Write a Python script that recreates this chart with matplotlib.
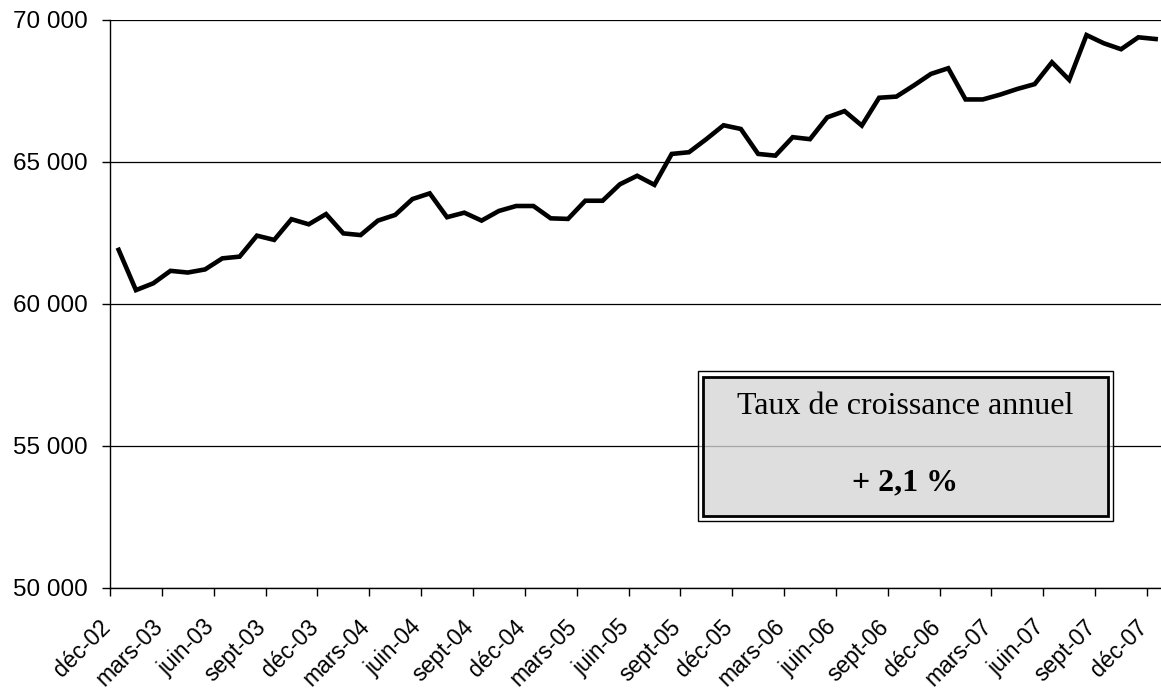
import matplotlib
matplotlib.use("Agg")
import matplotlib.pyplot as plt
from matplotlib.patches import Rectangle
from matplotlib.transforms import ScaledTranslation

# ---- data ----
values = [61900, 60480, 60720, 61160, 61100, 61210, 61600, 61660, 62400, 62250,
          62980, 62800, 63160, 62480, 62420, 62930, 63130, 63690, 63890, 63050,
          63210, 62930, 63270, 63445, 63445, 63010, 62990, 63630, 63630, 64210,
          64510, 64190, 65280, 65340, 65800, 66290, 66160, 65280, 65220, 65870,
          65800, 66570, 66790, 66280, 67260, 67300, 67690, 68100, 68300, 67200,
          67200, 67370, 67570, 67740, 68510, 67890, 69470, 69180, 68970, 69390,
          69330]
tick_labels = ["déc-02", "mars-03", "juin-03", "sept-03", "déc-03", "mars-04",
               "juin-04", "sept-04", "déc-04", "mars-05", "juin-05", "sept-05",
               "déc-05", "mars-06", "juin-06", "sept-06", "déc-06", "mars-07",
               "juin-07", "sept-07", "déc-07"]
y_ticks = [50000, 55000, 60000, 65000, 70000]
y_tick_labels = ["50 000", "55 000", "60 000", "65 000", "70 000"]
box_title = "Taux de croissance annuel"
box_value = "+ 2,1 %"

W, H = 1161, 695
fig = plt.figure(figsize=(W / 100, H / 100), dpi=100)
ax = fig.add_axes([110 / W, (H - 587.5) / H, (W - 110) / W, 567.5 / H])

x = list(range(len(values)))
ax.plot(x, values, color="black", lw=3.3, zorder=3, solid_joinstyle="miter")

px_per_month = (1147 - 110) / 60
ax.set_xlim(-0.5, -0.5 + (W - 110) / px_per_month)
ax.set_ylim(50000, 70000)

ax.set_yticks(y_ticks)
ax.set_yticklabels(y_tick_labels, family="Liberation Sans", fontsize=17.5)
ax.set_xticks([-0.5 + 3 * k for k in range(len(tick_labels))])
ax.set_xticklabels(tick_labels, family="Liberation Sans", fontsize=16.5,
                   rotation=45, ha="right", va="top", rotation_mode="anchor")
ax.tick_params(axis="y", length=6, width=1, pad=10, color="black")
ax.tick_params(axis="x", length=6, width=1, pad=14, color="black")
offset = ScaledTranslation(-11 / 100, 0, fig.dpi_scale_trans)
for lab in ax.get_xticklabels():
    lab.set_transform(lab.get_transform() + offset)

for s in ["top", "right"]:
    ax.spines[s].set_visible(False)
for s in ["left", "bottom"]:
    ax.spines[s].set_linewidth(1.0)
    ax.spines[s].set_color("black")

ax.yaxis.grid(True, color="black", lw=0.9)
ax.set_axisbelow(True)

# ---- annotation box (pixel-based placement in figure coords) ----
def fx(px):
    return px / W

def fy(py):
    return (H - py) / H

outer = Rectangle((fx(697.5), fy(521)), fx(1112.5) - fx(697.5), fy(371) - fy(521),
                  transform=fig.transFigure, facecolor=(1, 1, 1, 0.55),
                  edgecolor="black", lw=1.0, zorder=5)
inner = Rectangle((fx(702.5), fy(515.5)), fx(1108) - fx(702.5), fy(376.5) - fy(515.5),
                  transform=fig.transFigure, facecolor=(0.75, 0.75, 0.75, 0.5),
                  edgecolor="black", lw=2.0, zorder=6)
fig.add_artist(outer)
fig.add_artist(inner)
fig.text(fx(905), fy(406), box_title, family="Liberation Serif", fontsize=23,
         ha="center", va="center", zorder=7)
fig.text(fx(905), fy(483), box_value, family="Liberation Serif", fontsize=23,
         fontweight="bold", ha="center", va="center", zorder=7)

fig.savefig("out.png", dpi=100)
